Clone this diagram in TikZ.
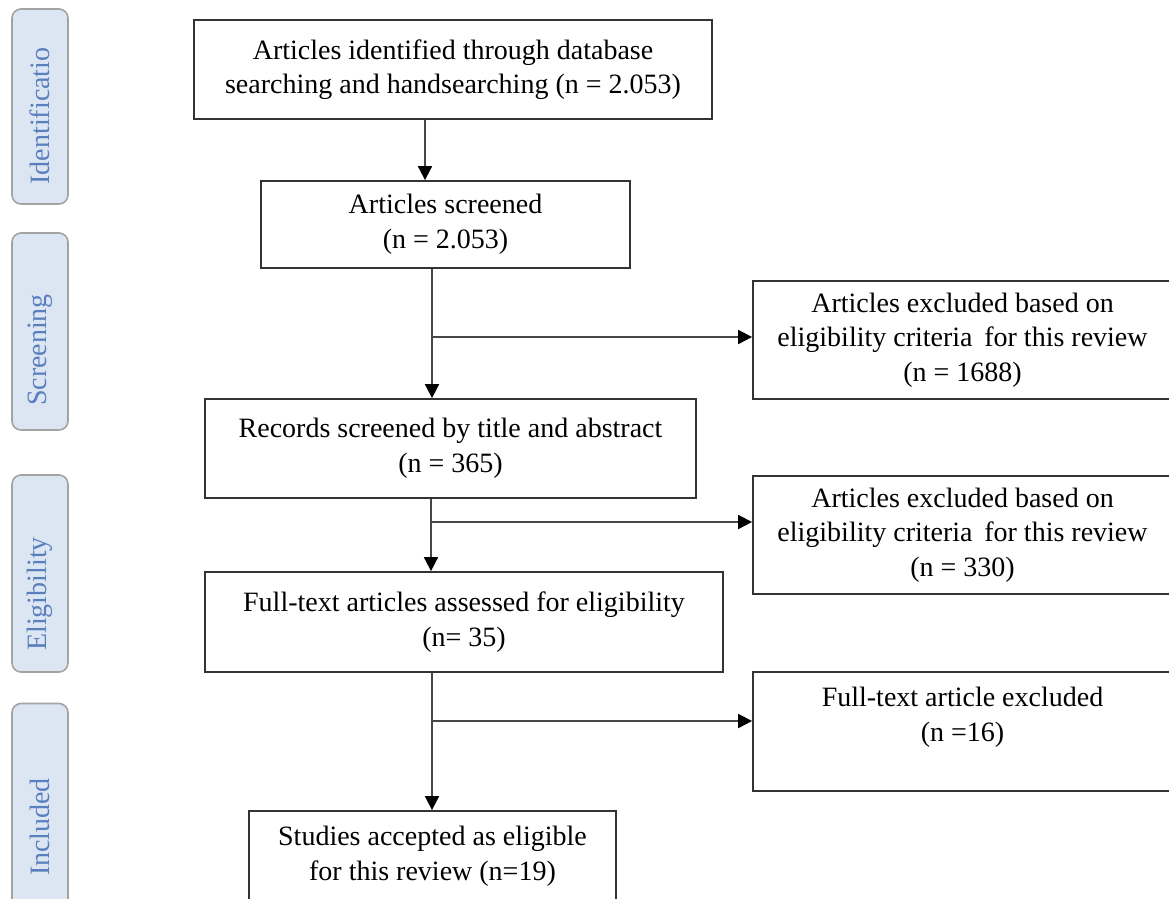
\documentclass[tikz,border=0pt]{standalone}
\usepackage{fontspec}
\setmainfont{Liberation Serif}
\usetikzlibrary{arrows.meta,positioning}
\definecolor{phasefill}{HTML}{DCE6F2}
\definecolor{phaseline}{HTML}{A3A3A3}
\definecolor{phasetext}{HTML}{5A7FBF}
\definecolor{boxline}{HTML}{333333}

\begin{document}
\begin{tikzpicture}[x=1pt,y=-1pt,line width=1.8pt,font=\fontsize{28}{34.5}\selectfont]
  \tikzstyle{box}=[rectangle,draw=boxline,fill=white,align=center,inner sep=0pt]
  \tikzstyle{phase}=[rectangle,rounded corners=9pt,draw=phaseline,fill=phasefill,line width=1.6pt,minimum width=56pt]
  \tikzstyle{phaselabel}=[rotate=90,text=phasetext,inner sep=0pt]
  \tikzstyle{link}=[draw=black!72,line width=1.8pt,
                    -{Triangle[width=14pt,length=14pt,color=black]}]

  \useasboundingbox (0,0) rectangle (1169,898);
  \clip (0,0) rectangle (1169,898);

  % stages on the left
  \node[phase,minimum height=195pt] (P1) at (40,106.5) {};
  \node[phase,minimum height=197pt] (P2) at (40,331.5) {};
  \node[phase,minimum height=197pt] (P3) at (40,573.5) {};
  \node[phase,minimum height=215pt] (P4) at (40,811) {};
  \node[phaselabel] (L1) at (40,116) {Identificatio};
  \node[phaselabel] (L2) at (40,350) {Screening};
  \node[phaselabel] (L3) at (40,594) {Eligibility};
  \node[phaselabel] (L4) at (40,827) {Included};

  % main flow
  \node[box,minimum width=518pt,minimum height=99pt] (I) at (453,69.5)
    {Articles identified through database\\searching and handsearching (n = 2.053)};
  \node[box,minimum width=369pt,minimum height=87pt] (S) at (445.5,224.5)
    {Articles screened\\(n = 2.053)};
  \node[box,minimum width=491pt,minimum height=99pt] (R) at (450.5,448.5)
    {Records screened by title and abstract\\(n = 365)};
  \node[box,minimum width=518pt,minimum height=100pt] (F) at (464,622)
    {Full-text articles assessed for eligibility\\(n= 35)};
  \node[box,minimum width=367pt,minimum height=90pt] (Y) at (432.5,856)
    {Studies accepted as eligible\\for this review (n=19)};

  % exclusions
  \node[box,minimum width=419pt,minimum height=118pt] (X1) at (962.5,340)
    {Articles excluded based on\\eligibility criteria\ \,for this review\\(n = 1688)};
  \node[box,minimum width=419pt,minimum height=118pt] (X2) at (962.5,535)
    {Articles excluded based on\\eligibility criteria\ \,for this review\\(n = 330)};
  \node[box,minimum width=419pt,minimum height=119pt] (X3) at (962.5,731.5)
    {Full-text article excluded\\(n =16)\\\mbox{}};

  \coordinate (J1) at (432,337);
  \coordinate (J2) at (431,522);
  \coordinate (J3) at (432,721);

  \draw[link] ([xshift=-28pt]I.south) -- ([xshift=-28pt]I.south |- S.north);
  \draw[link] (S.south -| J1) -- (R.north -| J1);
  \draw[link] (J1) -- (J1 -| X1.west);
  \draw[link] (R.south -| J2) -- (F.north -| J2);
  \draw[link] (J2) -- (J2 -| X2.west);
  \draw[link] (F.south -| J3) -- (Y.north -| J3);
  \draw[link] (J3) -- (J3 -| X3.west);
\end{tikzpicture}
\end{document}
